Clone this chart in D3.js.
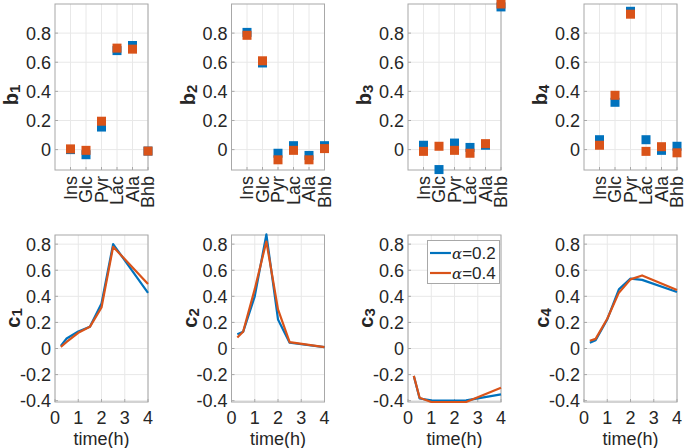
<!DOCTYPE html>
<html>
<head>
<meta charset="utf-8">
<script src="https://d3js.org/d3.v7.min.js"></script>
<style>
  body { margin: 0; background: #fff; }
  svg { font-family: "Liberation Sans", Arial, Helvetica, sans-serif; }
  text { fill: #262626; }
</style>
</head>
<body>
<svg id="fig" width="685" height="448"></svg>
<script>
// ---- data ----
let metabolites = ["Ins", "Glc", "Pyr", "Lac", "Ala", "Bhb"];
let times = [0.25, 0.5, 1, 1.5, 2, 2.5, 4];

// b_k loadings, alpha = 0.2 (blue) and alpha = 0.4 (orange)
let b1a2 = [0.0, -0.035, 0.155, 0.68, 0.715, -0.01];
let b1a4 = [0.005, -0.005, 0.195, 0.697, 0.69, -0.01];
let b2a2 = [0.805, 0.595, -0.025, 0.027, -0.04, 0.027];
let b2a4 = [0.785, 0.61, -0.07, -0.005, -0.07, 0.007];
let b3a2 = [0.03, -0.137, 0.045, 0.015, 0.03, 0.98];
let b3a4 = [-0.012, 0.023, -0.005, -0.025, 0.041, 1.0];
let b4a2 = [0.068, 0.325, 0.95, 0.068, -0.005, 0.023];
let b4a4 = [0.03, 0.373, 0.93, -0.012, 0.02, -0.022];

// c_k time courses
let c1a2 = [0.02, 0.077, 0.13, 0.166, 0.345, 0.80, 0.427];
let c1a4 = [0.013, 0.05, 0.12, 0.166, 0.314, 0.78, 0.495];
let c2a2 = [0.11, 0.128, 0.40, 0.875, 0.223, 0.044, 0.01];
let c2a4 = [0.085, 0.128, 0.455, 0.82, 0.30, 0.049, 0.01];
let c3a2 = [-0.21, -0.383, -0.398, -0.40, -0.40, -0.398, -0.352];
let c3a4 = [-0.21, -0.377, -0.41, -0.41, -0.41, -0.41, -0.30];
let c4a2 = [0.045, 0.064, 0.223, 0.454, 0.536, 0.526, 0.433];
let c4a4 = [0.06, 0.074, 0.228, 0.428, 0.53, 0.56, 0.449];

let bTicks = [0, 0.2, 0.4, 0.6, 0.8];
let cTicks = [-0.4, -0.2, 0, 0.2, 0.4, 0.6, 0.8];
let timeTicks = [0, 1, 2, 3, 4];
let legendLabels = ["0.2", "0.4"];

let bSeries = [[b1a2, b1a4], [b2a2, b2a4], [b3a2, b3a4], [b4a2, b4a4]];
let cSeries = [[c1a2, c1a4], [c2a2, c2a4], [c3a2, c3a4], [c4a2, c4a4]];

// ---- layout ----
let svg = d3.select("#fig");
let colors = ["#0072BD", "#D95319"];
let lefts = [55, 231.5, 408, 584];
let axW = 93;
let fs = 18;
let axisColor = "#a8a8a8", gridColor = "#e8e8e8";

let fmt = v => (Math.abs(v) < 1e-9 ? "0" : String(+v.toFixed(1)));

function frame(g, x, y, xTicks, yTicks) {
  let [x0, x1] = x.range(), [y0, y1] = y.range();
  // grid
  g.append("g").selectAll("line").data(xTicks).join("line")
    .attr("x1", d => x(d)).attr("x2", d => x(d))
    .attr("y1", y0).attr("y2", y1)
    .attr("stroke", gridColor).attr("stroke-width", 1);
  g.append("g").selectAll("line").data(yTicks).join("line")
    .attr("x1", x0).attr("x2", x1)
    .attr("y1", d => y(d)).attr("y2", d => y(d))
    .attr("stroke", gridColor).attr("stroke-width", 1);
  // inward ticks
  g.append("g").selectAll("line").data(yTicks).join("line")
    .attr("x1", x0).attr("x2", x0 + 3)
    .attr("y1", d => y(d)).attr("y2", d => y(d))
    .attr("stroke", axisColor);
  g.append("g").selectAll("line").data(xTicks).join("line")
    .attr("x1", d => x(d)).attr("x2", d => x(d))
    .attr("y1", y0).attr("y2", y0 - 3)
    .attr("stroke", axisColor);
  // box
  g.append("rect")
    .attr("x", x0).attr("y", y1)
    .attr("width", x1 - x0).attr("height", y0 - y1)
    .attr("fill", "none").attr("stroke", axisColor).attr("stroke-width", 1);
  // y tick labels
  g.append("g").selectAll("text").data(yTicks).join("text")
    .attr("x", x0 - 4).attr("y", d => y(d))
    .attr("dy", "0.36em")
    .attr("text-anchor", "end")
    .attr("font-size", fs)
    .text(fmt);
}

function yLabel(g, letter, k, cx, cy) {
  let t = g.append("text")
    .attr("transform", `translate(${cx},${cy}) rotate(-90)`)
    .attr("text-anchor", "middle")
    .attr("font-weight", "bold")
    .attr("font-size", 20);
  t.append("tspan").text(letter);
  t.append("tspan").attr("font-size", 15).attr("dy", 2).text(k);
}

// ---- top row: b_k ----
let bx = i => d3.scaleLinear().domain([0, 6]).range([lefts[i], lefts[i] + axW]);
let by = d3.scaleLinear().domain([-0.14, 1.0]).range([170, 4]);

bSeries.forEach((pair, i) => {
  let g = svg.append("g");
  let x = bx(i);
  frame(g, x, by, d3.range(1, 7), bTicks);

  // category labels, rotated
  g.append("g").selectAll("text").data(metabolites).join("text")
    .attr("transform", (d, j) => `translate(${x(j + 1) + 6},176) rotate(-90)`)
    .attr("text-anchor", "end")
    .attr("font-size", fs)
    .text(d => d);

  pair.forEach((vals, s) => {
    g.append("g").selectAll("rect").data(vals).join("rect")
      .attr("x", (d, j) => x(j + 1) - 4.5)
      .attr("y", d => by(d) - 4.5)
      .attr("width", 9).attr("height", 9)
      .attr("fill", colors[s]);
  });

  yLabel(g, "b", i + 1, lefts[i] - 37, 95);
});

// ---- bottom row: c_k ----
let cx = i => d3.scaleLinear().domain([0, 4]).range([lefts[i], lefts[i] + axW]);
let cy = d3.scaleLinear().domain([-0.41, 0.87]).range([402, 235]);

cSeries.forEach((pair, i) => {
  let g = svg.append("g");
  let x = cx(i);
  frame(g, x, cy, timeTicks, cTicks);

  g.append("g").selectAll("text").data(timeTicks).join("text")
    .attr("x", d => x(d)).attr("y", 424)
    .attr("text-anchor", "middle")
    .attr("font-size", fs)
    .text(d => d);

  g.append("text")
    .attr("x", lefts[i] + axW / 2).attr("y", 444.5)
    .attr("text-anchor", "middle")
    .attr("font-size", fs)
    .text("time(h)");

  let line = d3.line().x((d, j) => x(times[j])).y(d => cy(d));
  pair.forEach((vals, s) => {
    g.append("path")
      .datum(vals)
      .attr("d", line)
      .attr("fill", "none")
      .attr("stroke", colors[s])
      .attr("stroke-width", 2.2)
      .attr("stroke-linejoin", "round");
  });

  yLabel(g, "c", i + 1, lefts[i] - 35, 318);
});

// ---- legend in c3 panel ----
let lg = svg.append("g");
lg.append("rect")
  .attr("x", 427.5).attr("y", 240.5)
  .attr("width", 72).attr("height", 43)
  .attr("fill", "#fff").attr("stroke", axisColor);
legendLabels.forEach((lab, s) => {
  let ly = 253 + s * 20;
  lg.append("line")
    .attr("x1", 430).attr("x2", 451)
    .attr("y1", ly).attr("y2", ly)
    .attr("stroke", colors[s]).attr("stroke-width", 2.2);
  let t = lg.append("text")
    .attr("x", 452).attr("y", ly).attr("dy", "0.36em")
    .attr("font-size", 17);
  t.append("tspan").attr("font-style", "italic").attr("font-family", "DejaVu Serif, serif").attr("font-size", 15).text("α");
  t.append("tspan").text("=" + lab);
});
</script>
</body>
</html>
